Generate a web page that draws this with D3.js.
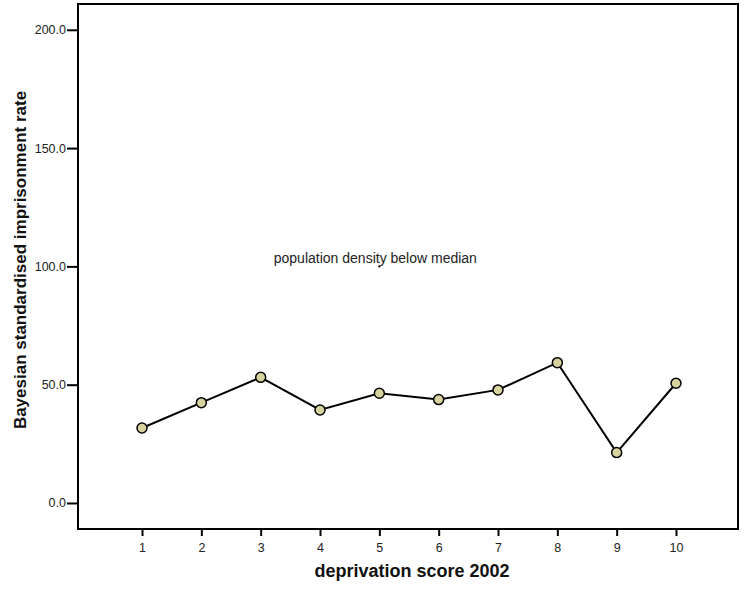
<!DOCTYPE html>
<html><head><meta charset="utf-8">
<script src="https://cdn.jsdelivr.net/npm/d3@7"></script>
<style>body{margin:0;background:#fff}svg{display:block}</style>
</head><body>
<script>
const categories = [1,2,3,4,5,6,7,8,9,10];
const values = [31.7,42.4,53.1,39.3,46.4,43.7,47.8,59.3,21.3,50.6];
const yTicks = [0,50,100,150,200];
const annotation = {x:5, y:100, text:"population density below median"};

const W=744,H=592;
const svg=d3.select("body").append("svg").attr("width",W).attr("height",H);
const L=78,R=738,T=4,B=529;
const x=d3.scaleLinear().domain([-0.079,11.045]).range([L,R]);
const y=d3.scaleLinear().domain([-11,210.9]).range([B,T]);
const font="Arial, 'Liberation Sans', sans-serif";

svg.append("rect").attr("x",L).attr("y",T).attr("width",R-L).attr("height",B-T)
  .attr("fill","none").attr("stroke","#000").attr("stroke-width",2);

const ya=svg.append("g").attr("transform",`translate(${L},0)`)
  .call(d3.axisLeft(y).tickValues(yTicks).tickFormat(d3.format(".1f")).tickSize(11).tickPadding(1));
ya.select(".domain").remove();
ya.selectAll("line").attr("stroke-width",2);
ya.selectAll("text").attr("font-family",font).attr("font-size",12.5).attr("fill","#222");

const xa=svg.append("g").attr("transform",`translate(0,${B})`)
  .call(d3.axisBottom(x).tickValues(categories).tickFormat(d3.format("d")).tickSize(7).tickPadding(7));
xa.select(".domain").remove();
xa.selectAll("line").attr("stroke-width",2);
xa.selectAll("text").attr("font-family",font).attr("font-size",12.5).attr("fill","#222");

const line=d3.line().x((d,i)=>x(categories[i])).y(d=>y(d));
svg.append("path").datum(values).attr("d",line).attr("fill","none").attr("stroke","#000").attr("stroke-width",2);
svg.selectAll("circle.pt").data(values).enter().append("circle").attr("class","pt")
  .attr("cx",(d,i)=>x(categories[i])).attr("cy",d=>y(d)).attr("r",5)
  .attr("fill","#d8d29e").attr("stroke","#000").attr("stroke-width",1.5);

svg.append("rect").attr("x",x(annotation.x)-1).attr("y",y(annotation.y)-1).attr("width",2).attr("height",2).attr("fill","#000");
svg.append("text").attr("x",x(annotation.x)-4).attr("y",y(annotation.y)-3)
  .attr("text-anchor","middle").attr("font-family",font).attr("font-size",14).attr("fill","#222")
  .text(annotation.text);

svg.append("text").attr("x",412).attr("y",577).attr("text-anchor","middle")
  .attr("font-family",font).attr("font-size",18).attr("font-weight","bold").attr("fill","#111")
  .text("deprivation score 2002");
svg.append("text").attr("transform",`translate(26,${260}) rotate(-90)`).attr("text-anchor","middle")
  .attr("font-family",font).attr("font-size",17).attr("font-weight","bold").attr("fill","#111")
  .text("Bayesian standardised imprisonment rate");
</script>
</body></html>
